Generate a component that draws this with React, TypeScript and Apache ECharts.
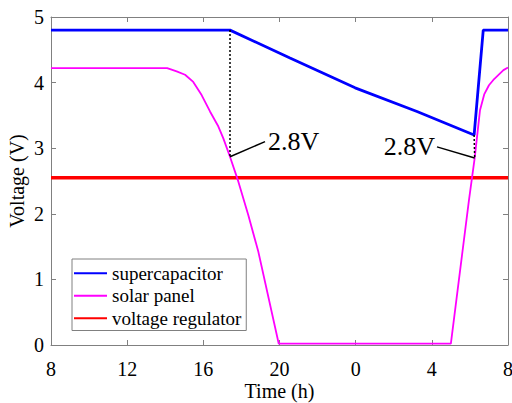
import React, { useEffect, useRef } from "react";
import * as echarts from "echarts";

const FONT = '"Liberation Serif", "Times New Roman", Times, serif';

// x: hours elapsed since 8:00 (0..24), labels show clock time
const xTickLabels = ["8", "12", "16", "20", "0", "4", "8"];
const seriesNames = ["supercapacitor", "solar panel", "voltage regulator"];

const superT = [0, 9.4, 12.55, 15.97, 19.22, 22.22, 22.7, 24];
const superV = [4.8, 4.8, 4.375, 3.92, 3.56, 3.2, 4.8, 4.8];

const solarT = [0, 6.1, 6.6, 7.04, 7.47, 7.91, 8.35, 8.79, 9.05, 9.4, 9.84, 10.36, 10.89, 11.96, 21.0, 21.95, 22.25, 22.53, 22.75, 23.0, 23.23, 23.76, 24];
const solarV = [4.22, 4.22, 4.17, 4.12, 4.01, 3.81, 3.56, 3.33, 3.15, 2.87, 2.49, 1.98, 1.42, 0.02, 0.02, 2.21, 2.85, 3.58, 3.82, 3.96, 4.04, 4.19, 4.23];

const regT = [0, 24];
const regV = [2.55, 2.55];

// annotations: [time, voltage]
const drop1Top = [9.4, 4.8];
const drop1Bottom = [9.4, 2.87];
const arrow1Tip = [11.24, 3.1];
const drop2Top = [22.22, 3.2];
const drop2Bottom = [22.25, 2.85];
const arrow2Tip = [20.27, 3.02];
const annotationText = "2.8V";

const zip = (t: number[], v: number[]) => t.map((x, i) => [x, v[i]]);

const axisGray = "#808080";

export default function App() {
  const ref = useRef<HTMLDivElement>(null);
  useEffect(() => {
    if (!ref.current) return;
    const chart = echarts.init(ref.current, undefined, { renderer: "svg" });
    const baseX = {
      type: "value" as const,
      min: 0,
      max: 24,
      interval: 4,
      splitLine: { show: false },
      axisLine: { show: true, onZero: false, lineStyle: { color: axisGray, width: 1 } },
      axisTick: { show: true, inside: true, length: 5, lineStyle: { color: axisGray } },
    };
    const baseY = {
      type: "value" as const,
      min: 0,
      max: 5,
      interval: 1,
      splitLine: { show: false },
      axisLine: { show: true, onZero: false, lineStyle: { color: axisGray, width: 1 } },
      axisTick: { show: true, inside: true, length: 5, lineStyle: { color: axisGray } },
    };
    chart.setOption({
      animation: false,
      backgroundColor: "#ffffff",
      grid: { left: 51, right: 4, top: 17, bottom: 58, outerBoundsMode: "none", containLabel: false },
      legend: {
        data: seriesNames,
        orient: "vertical",
        left: 72,
        top: 259,
        padding: [3, 5, 1, 2],
        itemGap: 0,
        icon: "rect",
        itemWidth: 33,
        itemHeight: 2,
        borderColor: axisGray,
        borderWidth: 1,
        backgroundColor: "#ffffff",
        textStyle: { fontFamily: FONT, fontSize: 19, color: "#000", lineHeight: 22.5 },
      },
      xAxis: [
        {
          ...baseX,
          position: "bottom",
          name: "Time (h)",
          nameLocation: "middle",
          nameGap: 36,
          nameMoveOverlap: false,
          nameTextStyle: { fontFamily: FONT, fontSize: 20, color: "#000" },
          axisLabel: {
            color: "#000",
            fontFamily: FONT,
            fontSize: 20,
            margin: 14,
            formatter: (v: number) => xTickLabels[Math.round(v / 4)],
          },
        },
        { ...baseX, position: "top", axisLabel: { show: false } },
      ],
      yAxis: [
        {
          ...baseY,
          position: "left",
          name: "Voltage (V)",
          nameLocation: "middle",
          nameGap: 24,
          nameMoveOverlap: false,
          nameTextStyle: { fontFamily: FONT, fontSize: 20, color: "#000" },
          axisLabel: { color: "#000", fontFamily: FONT, fontSize: 20, margin: 7 },
        },
        { ...baseY, position: "right", axisLabel: { show: false } },
      ],
      series: [
        {
          name: seriesNames[2],
          type: "line",
          data: zip(regT, regV),
          showSymbol: false,
          symbol: "none",
          color: "#ff0000",
          lineStyle: { color: "#ff0000", width: 3.5 },
          z: 2,
          markPoint: {
            silent: true,
            symbol: "circle",
            symbolSize: 0,
            data: [
              {
                coord: arrow1Tip,
                label: { show: true, position: "right", distance: 3, formatter: annotationText, fontFamily: FONT, fontSize: 26, color: "#000" },
              },
              {
                coord: arrow2Tip,
                label: { show: true, position: "left", distance: 2, formatter: annotationText, fontFamily: FONT, fontSize: 26, color: "#000" },
              },
            ],
          },
        },
        {
          name: seriesNames[1],
          type: "line",
          data: zip(solarT, solarV),
          showSymbol: false,
          symbol: "none",
          color: "#ff00ff",
          lineStyle: { color: "#ff00ff", width: 1.8 },
          z: 3,
          markLine: {
            silent: true,
            symbol: ["none", "arrow"],
            symbolSize: [0, 11],
            label: { show: false },
            lineStyle: { color: "#000", type: "solid", width: 1.5 },
            data: [
              [{ coord: drop1Bottom }, { coord: arrow1Tip }],
              [{ coord: drop2Bottom }, { coord: arrow2Tip }],
            ],
          },
        },
        {
          name: seriesNames[0],
          type: "line",
          data: zip(superT, superV),
          showSymbol: false,
          symbol: "none",
          color: "#0000ff",
          lineStyle: { color: "#0000ff", width: 2.8 },
          z: 4,
          markLine: {
            silent: true,
            symbol: ["none", "none"],
            label: { show: false },
            lineStyle: { color: "#000", type: [2, 2], width: 1.5 },
            data: [
              [{ coord: drop1Top }, { coord: drop1Bottom }],
              [{ coord: drop2Top }, { coord: drop2Bottom }],
            ],
          },
        },
      ],
    });
    return () => chart.dispose();
  }, []);
  return (
    <div
      ref={ref}
      style={{ position: "fixed", left: 0, top: 0, width: 512, height: 403, background: "#fff" }}
    />
  );
}
